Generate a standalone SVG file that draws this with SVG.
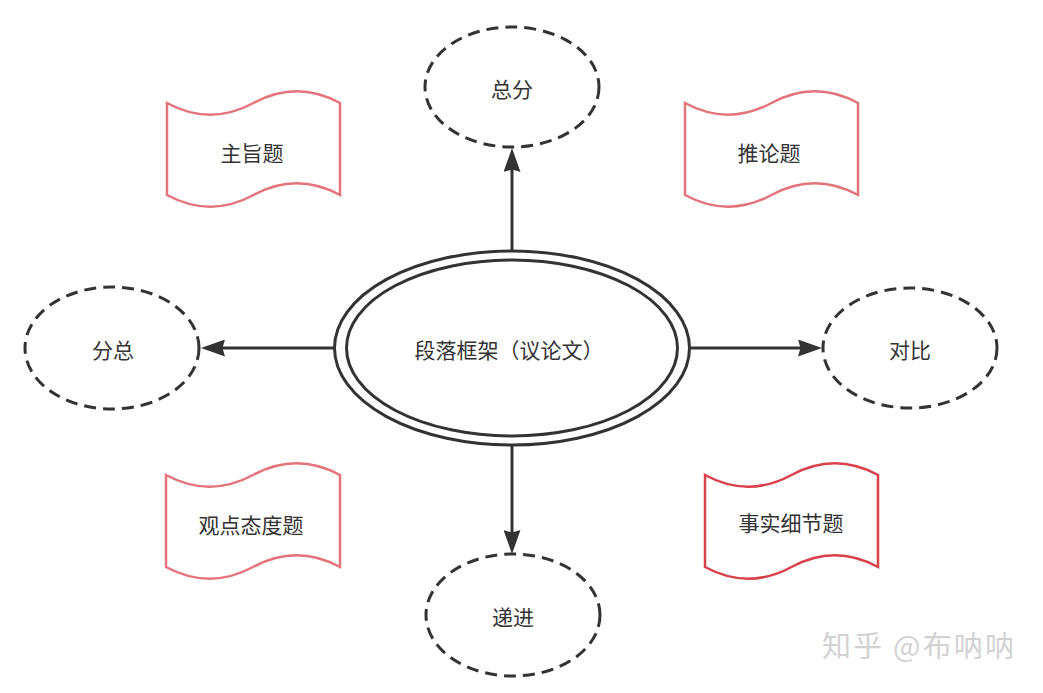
<svg xmlns="http://www.w3.org/2000/svg" width="1043" height="693" viewBox="0 0 1043 693">
  <style>
    .lbl { font-family: "Noto Sans CJK SC", "Noto Sans", sans-serif; font-size: 21px; fill: #333333; text-anchor: middle; dominant-baseline: central; }
    .dash { fill: #ffffff; stroke: #333333; stroke-width: 3; stroke-dasharray: 12 7; }
    .tape { fill: #ffffff; stroke: #e5737b; stroke-width: 2.5; stroke-linejoin: miter; }
    .tape2 { fill: #ffffff; stroke: #d9404a; stroke-width: 2.5; }
    .core { fill: #ffffff; stroke: #333333; stroke-width: 3; }
    .edge { stroke: #333333; stroke-width: 3; fill: none; marker-end: url(#arr); }
    .wm { font-family: "Noto Sans CJK SC", "Noto Sans", sans-serif; font-size: 29px; fill: #d2d2d2; }
  </style>
  <defs>
    <marker id="arr" viewBox="0 0 24 17" refX="12" refY="8.5" markerWidth="24" markerHeight="17" markerUnits="userSpaceOnUse" orient="auto">
      <path d="M0,0 L24,8.5 L0,17 L2.5,8.5 Z" fill="#333333"/>
    </marker>
  </defs>
  <rect width="1043" height="693" fill="#ffffff"/>

  <g id="connectors">
    <line class="edge" x1="512" y1="252" x2="512" y2="160"/>
    <line class="edge" x1="335" y1="348" x2="213" y2="348"/>
    <line class="edge" x1="690" y1="348" x2="810" y2="348"/>
    <line class="edge" x1="512" y1="446" x2="512" y2="542"/>
  </g>

  <g id="center">
    <ellipse class="core" cx="512" cy="348" rx="177.5" ry="97"/>
    <ellipse class="core" cx="512" cy="348" rx="165.5" ry="88"/>
    <text class="lbl" x="509" y="349">段落框架（议论文）</text>
  </g>

  <g id="zongfen">
    <ellipse class="dash" cx="512" cy="87" rx="87" ry="60"/>
    <text class="lbl" x="512" y="88">总分</text>
  </g>
  <g id="fenzong">
    <ellipse class="dash" cx="112" cy="348" rx="87" ry="61"/>
    <text class="lbl" x="113" y="349">分总</text>
  </g>
  <g id="duibi">
    <ellipse class="dash" cx="910" cy="348" rx="87" ry="60"/>
    <text class="lbl" x="910" y="349">对比</text>
  </g>
  <g id="dijin">
    <ellipse class="dash" cx="513" cy="615" rx="87" ry="61"/>
    <text class="lbl" x="513" y="616">递进</text>
  </g>

  <g id="zhuzhiti">
    <path class="tape" d="M167,103 Q210.25,126.4 253.5,103 Q296.75,79.6 340,103 L340,195 Q296.75,171.6 253.5,195 Q210.25,218.4 167,195 Z"/>
    <text class="lbl" x="252" y="152">主旨题</text>
  </g>
  <g id="tuilunti">
    <path class="tape" d="M685,103 Q728.25,126.4 771.5,103 Q814.75,79.6 858,103 L858,195 Q814.75,171.6 771.5,195 Q728.25,218.4 685,195 Z"/>
    <text class="lbl" x="769" y="152">推论题</text>
  </g>
  <g id="guandianti">
    <path class="tape" d="M166,475 Q209.5,498.4 253,475 Q296.5,451.6 340,475 L340,567 Q296.5,543.6 253,567 Q209.5,590.4 166,567 Z"/>
    <text class="lbl" x="251" y="524">观点态度题</text>
  </g>
  <g id="shishiti">
    <path class="tape2" d="M705,475 Q748.25,498.4 791.5,475 Q834.75,451.6 878,475 L878,567 Q834.75,543.6 791.5,567 Q748.25,590.4 705,567 Z"/>
    <text class="lbl" x="791" y="522">事实细节题</text>
  </g>

  <text class="wm" x="822" y="657" textLength="192" lengthAdjust="spacing">知乎 @布呐呐</text>
</svg>
